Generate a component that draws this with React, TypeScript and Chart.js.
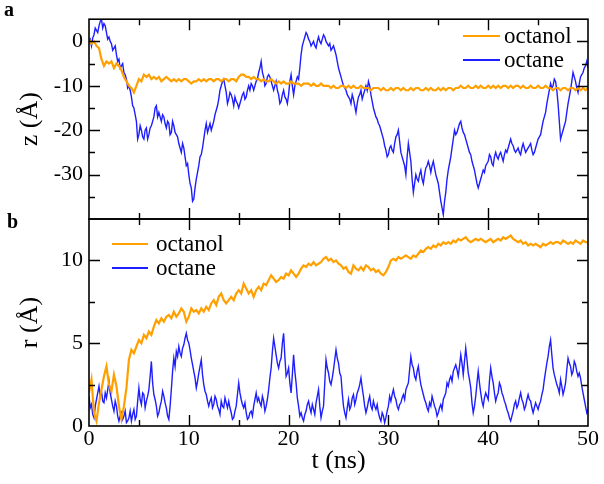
import React, { useEffect, useRef } from "react";
import { Chart, registerables } from "chart.js";

Chart.register(...registerables);

// ---------- data ----------
// octanol series sampled every 0.25 ns, octane series every 0.125 ns (t = 0 ... 50 ns)
const STEP_OCTANOL = 0.25;
const STEP_OCTANE = 0.125;
const seriesNames = ["octanol", "octane"];
const xTickLabels = ["0", "10", "20", "30", "40", "50"];

const zOctane = [
  0, 0.5, -1, 0.8, 1.5, 3, 2.5, 2,
  3.5, 4.5, 5, 3, 4, 3.5, 2, 0.5,
  1, 0, -0.5, -2, -1.5, -1, -3, -4.5,
  -4, -6, -5.5, -5, -7, -7.5, -8.5, -10.5,
  -10, -11, -12.5, -14.5, -15, -16.5, -18, -22,
  -21, -19, -20, -21.5, -22, -20, -19.5, -22,
  -21, -19.5, -19, -18, -17, -15, -14.5, -17,
  -16, -17, -18, -16.5, -17, -18.5, -19.5, -18,
  -18.5, -21, -20.5, -18, -19, -20.5, -21, -21.5,
  -23, -24, -25, -23, -24, -26, -28, -27.5,
  -30, -32, -33, -36, -35.5, -33, -31, -29.5,
  -28, -26, -25.5, -24, -22, -20, -18.5, -20.5,
  -19.5, -18.5, -20, -19, -18, -16.5, -15.5, -14.5,
  -13, -11, -10, -9, -8.5, -10, -11.5, -14,
  -13, -11.5, -12, -13, -14.5, -12.5, -13.5, -14,
  -15, -14, -13, -12, -11.5, -13, -12.5, -11,
  -10, -11, -9.5, -10, -11, -10, -9, -8.5,
  -7, -6, -4.5, -7, -8, -10, -9.5, -8,
  -7.5, -8, -9, -10, -11, -10, -9, -11,
  -12, -14, -13.5, -12, -11, -12.5, -13, -14,
  -12, -9, -7.5, -10, -12, -10, -9, -8,
  -8.5, -6, -3, -1, 0, 1, 2, 1.5,
  0.5, 0, -1, -0.5, 0, -1, -1.5, 0,
  1, 0, -0.5, 0.5, 1.5, 1, 0, -0.5,
  -1, -0.5, -2, -1.5, -1, -2, -3, -4.5,
  -6, -7, -8, -9, -10, -10.5, -11, -12,
  -12.5, -13, -14, -12, -13, -14.5, -16, -14,
  -12.5, -12, -11, -13, -12, -11, -10, -11,
  -9, -10, -12, -13.5, -15, -16, -17, -17.5,
  -18.5, -19, -20, -21, -22, -23.5, -24.5, -26,
  -25.5, -24, -23.5, -24.5, -25, -23, -21.5, -21,
  -20, -22.5, -25, -26, -27, -28, -30, -26,
  -23, -25, -27, -31, -34, -32, -30, -31,
  -31.5, -30, -29, -31, -32, -30, -28.5, -28,
  -27, -28, -29.5, -28, -27, -28.5, -30, -31,
  -32, -34, -36, -37.5, -39, -36, -34, -31,
  -29, -27.5, -26, -24, -22, -20, -21, -20.5,
  -19.5, -18.5, -18, -19.5, -20.5, -21, -22, -23,
  -24, -25, -25.5, -27, -28, -29, -30.5, -32,
  -33, -32, -31, -30, -29, -29.5, -28, -27.5,
  -27, -25.5, -26, -27.5, -28, -26, -25, -26,
  -26.5, -25.5, -25, -26, -27, -25.5, -24.5, -25,
  -24, -23, -22, -23, -23.5, -24.5, -25, -24.5,
  -24, -25, -25.5, -24, -23, -24, -25, -24.5,
  -24, -23.5, -23, -24.5, -25.5, -25, -24, -23,
  -22, -21.5, -21, -19.5, -18, -17, -16, -14,
  -12.5, -11, -9.5, -10.5, -10, -8.5, -9, -11,
  -14, -18, -22, -21, -20, -19, -18, -16,
  -14, -12.5, -11, -9, -7, -8, -9, -10.5,
  -11.5, -9.5, -8, -7.5, -7, -6, -5.5, -4.5,
  -6,
];

const zOctanol = [
  0.5, -0.5, 0, -1, -1.5, -4, -5.5, -4.5, -5, -4.5, -6, -5, -5.5, -6.5, -8, -9,
  -10, -10.5, -11.5, -10, -8.5, -9, -7.5, -8, -7.5, -8.5, -8, -8.5, -8, -9, -8.5, -8,
  -8.5, -9, -8.5, -9, -8.5, -9, -8.5, -8.5, -9, -9.5, -9, -9, -8.5, -9, -8.5, -9,
  -8.5, -8.5, -9, -8.5, -8.5, -9, -8.5, -8.5, -9, -8.5, -8.5, -9, -8, -7.5, -7.5, -8,
  -8, -8.5, -8, -8.5, -8.5, -9, -8.5, -9, -9, -8.5, -9, -9.5, -9, -9.5, -9, -9.5,
  -9.5, -9, -9.5, -9.5, -9.5, -10, -9.5, -9.5, -9.5, -10, -9.5, -10, -10, -9.5, -10, -10,
  -10, -10.5, -10, -10.5, -10.5, -10, -10, -10.5, -10, -10.5, -10, -10.5, -10.5, -10, -10.5, -10.5,
  -10.5, -11, -10.5, -10.5, -10.5, -11, -10.5, -11, -11, -10.5, -11, -10.5, -10.5, -11, -10.5, -11,
  -11, -10.5, -11, -10.5, -10.5, -11, -11, -10.5, -11, -10.5, -11, -11, -10.5, -11, -10.5, -11,
  -10.5, -10.5, -11, -10.5, -10.5, -10, -10.5, -10.5, -10, -10.5, -10.5, -10, -10.5, -10, -10.5, -10.5,
  -10, -10.5, -10, -10.5, -10, -10.5, -10, -10, -10.5, -10, -10.5, -10, -10, -10.5, -10, -10.5,
  -10.5, -10, -10.5, -10.5, -10, -10.5, -10.5, -10, -10.5, -10.5, -11, -10.5, -10.5, -11, -10.5, -10.5,
  -11, -10.5, -10.5, -11, -10.5, -11, -10.5, -11, -10.5,
];

const rOctane = [
  1.8, 1.1, 1.3, 0.7, 0.5, 1.2, 1.6, 2.0,
  2.4, 1.8, 2.1, 1.5, 1.4, 2.0, 1.7, 2.2,
  2.7, 2.0, 1.6, 1.2, 0.9, 1.5, 1.2, 0.6,
  0.3, 0.6, 0.8, 0.4, 0.6, 0.9, 0.2, 0.3,
  0.5, 0.9, 0.3, 0.7, 1.0, 0.4, 0.6, 1.5,
  2.3, 1.6, 1.3, 2.0, 1.9, 1.1, 1.5, 1.8,
  2.2, 3.0, 3.9, 2.6, 1.9, 1.6, 1.2, 0.6,
  0.8, 1.2, 1.5, 2.1, 1.8, 1.4, 1.1, 0.6,
  0.4, 1.2, 2.2, 3.3, 4.1, 3.6, 4.5, 4.2,
  4.8, 4.4, 4.2, 4.7, 4.9, 5.3, 5.6, 5.2,
  5.0, 4.6, 4.1, 3.7, 3.3, 2.9, 2.3, 2.7,
  3.2, 3.6, 4.0, 3.1, 2.5, 2.1, 1.9, 1.5,
  1.2, 1.5, 1.7, 1.1, 1.3, 1.8, 1.6, 1.2,
  1.0, 0.7, 1.5, 1.2, 1.1, 1.7, 1.4, 1.1,
  1.5, 1.1, 0.8, 0.4, 0.5, 0.9, 1.2, 1.9,
  2.6, 2.0, 1.6, 1.3, 1.1, 1.4, 0.8, 0.4,
  0.5, 0.8, 0.9, 0.6, 1.2, 1.6, 2.0, 1.5,
  1.7, 1.4, 1.2, 1.8, 1.5, 0.9, 1.2, 1.6,
  2.2, 2.9, 3.5, 4.5, 5.3, 4.8, 4.3, 3.8,
  3.5, 3.9, 4.1, 5.0, 5.6, 4.2, 3.0, 3.2,
  3.5, 2.6, 2.0, 3.1, 4.3, 3.3, 2.6, 1.7,
  1.2, 0.6, 0.8, 0.5, 0.3, 0.7, 0.9, 1.3,
  1.5, 1.1, 0.8, 1.3, 1.0, 0.7, 1.4, 1.8,
  2.2, 1.2, 0.5, 0.9, 1.2, 2.6, 4.0, 3.5,
  3.2, 2.7, 2.5, 2.9, 3.4, 4.0, 4.6, 4.1,
  3.8, 3.2, 3.0, 2.0, 1.2, 0.8, 0.5, 1.1,
  1.6, 1.0, 1.2, 1.7, 1.9, 1.3, 1.6, 2.0,
  2.2, 2.5, 2.9, 2.3, 1.8, 1.2, 0.8, 1.1,
  1.5, 1.8, 1.2, 1.0, 1.5, 1.2, 1.0, 1.3,
  0.8, 0.5, 0.3, 0.8, 0.6, 0.2, 0.5, 0.9,
  1.2, 1.8, 1.5, 1.9, 2.2, 1.8, 1.6, 1.2,
  1.0, 1.3, 1.4, 1.7, 1.9, 1.6, 2.2, 2.4,
  2.6, 3.4, 4.2, 3.7, 3.5, 3.0, 2.8, 3.3,
  3.6, 3.0, 2.5, 2.2, 1.9, 1.6, 1.4, 1.1,
  0.9, 1.4, 1.2, 1.8, 1.5, 1.2, 1.0, 0.6,
  0.8, 1.1, 1.3, 1.0, 1.6, 1.8, 2.0, 2.6,
  2.4, 2.8, 3.0, 2.7, 3.3, 3.5, 3.7, 3.4,
  3.0, 3.6, 4.3, 3.8, 3.1, 3.9, 4.7, 4.0,
  3.2, 2.8, 2.3, 1.4, 0.8, 1.2, 1.8, 2.6,
  3.3, 2.6, 2.0, 1.5, 1.2, 1.7, 2.0, 1.8,
  1.6, 2.7, 3.5, 3.0, 2.6, 2.0, 1.5, 1.8,
  2.0, 2.6, 2.4, 2.0, 1.8, 1.5, 1.3, 1.0,
  0.8, 0.5, 0.3, 0.6, 0.9, 1.3, 1.5, 1.1,
  1.3, 1.7, 2.0, 1.6, 1.4, 1.0, 1.2, 1.6,
  1.9, 1.6, 1.5, 1.1, 0.8, 1.1, 1.4, 1.2,
  1.0, 1.3, 1.5, 1.9, 2.2, 2.8, 3.3, 3.8,
  4.2, 4.8, 5.2, 4.3, 3.5, 3.1, 2.8, 2.5,
  2.3, 2.0, 2.8, 2.4, 1.9, 2.2, 2.6, 3.4,
  4.1, 3.8, 3.6, 3.1, 3.3, 3.9, 3.7, 3.3,
  3.0, 3.2, 2.9, 2.4, 2.0, 1.6, 1.2, 0.8,
  1.0,
];

const rOctanol = [
  2.0, 2.8, 0.8, 0.3, 1.4, 2.2, 3.0, 3.6, 2.5, 2.1, 3.1, 2.4, 1.2, 0.4, 1.2, 2.3,
  4.0, 4.6, 4.4, 4.8, 5.2, 5.0, 5.5, 5.3, 5.7, 5.5, 6.0, 6.4, 6.2, 6.5, 6.3, 6.6,
  6.7, 6.5, 6.9, 6.6, 6.8, 7.1, 6.9, 6.3, 6.6, 7.1, 6.9, 7.0, 6.8, 7.1, 6.9, 7.2,
  7.0, 7.4, 7.6, 7.3, 7.8, 8.0, 7.6, 7.4, 7.6, 7.8, 7.6, 8.0, 8.2, 8.0, 8.6, 8.3,
  8.0, 8.2, 7.8, 8.2, 8.4, 8.2, 8.6, 8.5, 8.8, 9.1, 8.9, 8.7, 8.8, 9.0, 8.9, 9.2,
  9.1, 9.4, 9.2, 9.0, 9.2, 9.5, 9.7, 9.6, 9.8, 9.7, 9.9, 9.7, 9.8, 9.9, 10.1, 10.2,
  10.0, 10.1, 9.9, 10.0, 9.8, 9.7, 9.5, 9.6, 9.3, 9.2, 9.7, 9.5, 9.4, 9.6, 9.4, 9.7,
  9.6, 9.4, 9.5, 9.3, 9.4, 9.2, 9.1, 9.3, 9.6, 10.0, 10.1, 10.0, 10.2, 10.1, 10.2, 10.3,
  10.2, 10.1, 10.3, 10.2, 10.4, 10.6, 10.5, 10.7, 10.8, 10.7, 10.9, 10.8, 11.0, 10.9, 11.1, 11.0,
  11.1, 11.0, 11.2, 11.1, 11.3, 11.2, 11.3, 11.4, 11.2, 11.1, 11.2, 11.3, 11.2, 11.3, 11.2, 11.1,
  11.2, 11.3, 11.1, 11.2, 11.3, 11.2, 11.4, 11.3, 11.4, 11.5, 11.3, 11.2, 11.1, 11.2, 11.0, 11.1,
  10.9, 11.0, 10.9, 11.0, 10.9, 10.8, 11.0, 10.9, 11.0, 11.1, 11.0, 11.1, 11.1, 11.0, 11.2, 11.1,
  11.0, 11.1, 11.0, 11.2, 11.1, 11.0, 11.2, 11.1, 11.1,
];

// ---------- styling ----------
const FONT = "'Liberation Serif', 'Times New Roman', serif";
const ORANGE = "#FFA000";
const BLUE = "#1E1EFF";
const W = 604;
const H = 484;
const PLOT_LEFT = 89;
const PLOT_RIGHT = 588;
const TOP_A = 13;
const SPLIT = 219;
const BOTTOM_B = 426;

const toXY = (vals: number[], step: number) => vals.map((v, i) => ({ x: i * step, y: v }));

function minorValues(min: number, max: number, step: number) {
  const out: number[] = [];
  const half = step / 2;
  const start = Math.ceil(min / half) * half;
  for (let v = start; v <= max + 1e-9; v += half) {
    const r = Math.abs(v / step - Math.round(v / step));
    if (r > 0.25 && v > min + 1e-6 && v < max - 1e-6) out.push(v);
  }
  return out;
}

function majorValues(min: number, max: number, step: number) {
  const out: number[] = [];
  const start = Math.ceil(min / step) * step;
  for (let v = start; v <= max + 1e-9; v += step) {
    if (v > min + 1e-6 && v < max - 1e-6) out.push(v);
  }
  return out;
}

const frameTicks = {
  id: "frameTicks",
  afterDatasetsDraw(chart: any, _args: any, opts: any) {
    const { ctx, chartArea } = chart;
    const xs = chart.scales.x;
    const ys = chart.scales.y;
    const { left, right, top, bottom } = chartArea;
    ctx.save();
    ctx.strokeStyle = "#000";
    ctx.lineWidth = 1.6;
    ctx.strokeRect(left, top, right - left, bottom - top);
    ctx.lineWidth = 1.4;
    const MAJ = 11;
    const MIN = 6;
    ctx.beginPath();
    const xMaj = majorValues(xs.min, xs.max, opts.xStep);
    const xMin = minorValues(xs.min, xs.max, opts.xStep);
    for (const v of xMaj) {
      const p = Math.round(xs.getPixelForValue(v)) + 0.5;
      ctx.moveTo(p, bottom); ctx.lineTo(p, bottom - MAJ);
      ctx.moveTo(p, top); ctx.lineTo(p, top + MAJ);
    }
    for (const v of xMin) {
      const p = Math.round(xs.getPixelForValue(v)) + 0.5;
      ctx.moveTo(p, bottom); ctx.lineTo(p, bottom - MIN);
      ctx.moveTo(p, top); ctx.lineTo(p, top + MIN);
    }
    const yMaj = majorValues(ys.min, ys.max, opts.yStep);
    const yMin = minorValues(ys.min, ys.max, opts.yStep);
    for (const v of yMaj) {
      const p = Math.round(ys.getPixelForValue(v)) + 0.5;
      ctx.moveTo(left, p); ctx.lineTo(left + MAJ, p);
      ctx.moveTo(right, p); ctx.lineTo(right - MAJ, p);
    }
    for (const v of yMin) {
      const p = Math.round(ys.getPixelForValue(v)) + 0.5;
      ctx.moveTo(left, p); ctx.lineTo(left + MIN, p);
      ctx.moveTo(right, p); ctx.lineTo(right - MIN, p);
    }
    ctx.stroke();

    // legend
    const lg = opts.legend;
    ctx.font = `23px ${FONT}`;
    ctx.textBaseline = "middle";
    ctx.textAlign = "left";
    chart.data.datasets.forEach((ds: any, i: number) => {
      const y = lg.y + i * lg.gap;
      ctx.strokeStyle = ds.borderColor;
      ctx.lineWidth = 2;
      ctx.beginPath();
      ctx.moveTo(lg.x0, y);
      ctx.lineTo(lg.x1, y);
      ctx.stroke();
      ctx.fillStyle = "#000";
      ctx.fillText(ds.label, lg.tx, y + 1);
    });

    // panel letter
    ctx.font = `bold 20px ${FONT}`;
    ctx.textBaseline = "alphabetic";
    ctx.fillText(opts.letter.text, opts.letter.x, opts.letter.y);
    ctx.restore();
  },
};

function makeConfig(panel: "a" | "b"): any {
  const isA = panel === "a";
  const ds = isA
    ? [
        { label: seriesNames[0], data: toXY(zOctanol, STEP_OCTANOL), borderColor: ORANGE, borderWidth: 2.2 },
        { label: seriesNames[1], data: toXY(zOctane, STEP_OCTANE), borderColor: BLUE, borderWidth: 1.4 },
      ]
    : [
        { label: seriesNames[0], data: toXY(rOctanol, STEP_OCTANOL), borderColor: ORANGE, borderWidth: 2.2 },
        { label: seriesNames[1], data: toXY(rOctane, STEP_OCTANE), borderColor: BLUE, borderWidth: 1.4 },
      ];
  return {
    type: "line",
    data: {
      datasets: ds.map((d) => ({
        ...d,
        pointRadius: 0,
        tension: 0,
        fill: false,
      })),
    },
    options: {
      responsive: false,
      animation: false,
      events: [],
      layout: {
        padding: isA
          ? { left: 0, right: W - PLOT_RIGHT, top: TOP_A, bottom: H - SPLIT }
          : { left: 0, right: W - PLOT_RIGHT, top: SPLIT, bottom: 0 },
      },
      plugins: {
        legend: { display: false },
        tooltip: { enabled: false },
        frameTicks: {
          xStep: 10,
          yStep: isA ? 10 : 5,
          legend: isA
            ? { x0: 463, x1: 500, tx: 504, y: 36, gap: 24 }
            : { x0: 112, x1: 148, tx: 156, y: 244, gap: 24 },
          letter: isA ? { text: "a", x: 4, y: 16 } : { text: "b", x: 7, y: 228 },
        },
      },
      scales: {
        x: {
          type: "linear",
          min: 0,
          max: 50,
          display: !isA,
          grid: { display: false, drawTicks: false },
          border: { display: false },
          ticks: {
            stepSize: 10,
            padding: 0,
            color: "#000",
            autoSkip: false,
            font: { family: FONT, size: 22 },
            maxRotation: 0,
            callback: (v: number) => {
              const idx = Math.round(v / 10);
              return Math.abs(v - idx * 10) < 1e-6 ? xTickLabels[idx] : "";
            },
          },
          title: {
            display: true,
            text: "t (ns)",
            color: "#000",
            font: { family: FONT, size: 26 },
            padding: { top: 0, bottom: 7 },
          },
          afterFit: (s: any) => {
            s.height = isA ? 0 : H - BOTTOM_B;
          },
        },
        y: {
          type: "linear",
          min: isA ? -40 : 0,
          max: isA ? 5 : 12.5,
          grid: { display: false, drawTicks: false },
          border: { display: false },
          afterBuildTicks: (s: any) => {
            s.ticks = s.ticks.filter((t: any) => {
              const v = Math.round(t.value * 1000) / 1000;
              return isA ? Math.abs(v % 10) < 1e-6 && v > -40 : Math.abs(v % 5) < 1e-6;
            });
          },
          ticks: {
            stepSize: isA ? 10 : 5,
            padding: 6,
            autoSkip: false,
            color: "#000",
            font: { family: FONT, size: 22 },
          },
          title: {
            display: true,
            text: isA ? "z (Å)" : "r (Å)",
            color: "#000",
            font: { family: FONT, size: 26 },
            padding: { top: 15, bottom: 0 },
          },
          afterFit: (s: any) => {
            s.width = PLOT_LEFT;
          },
        },
      },
    },
    plugins: [frameTicks],
  };
}

export default function App() {
  const refA = useRef<HTMLCanvasElement>(null);
  const refB = useRef<HTMLCanvasElement>(null);
  useEffect(() => {
    const a = new Chart(refA.current as HTMLCanvasElement, makeConfig("a"));
    const b = new Chart(refB.current as HTMLCanvasElement, makeConfig("b"));
    return () => {
      a.destroy();
      b.destroy();
    };
  }, []);
  const cs: React.CSSProperties = { position: "absolute", left: 0, top: 0, width: W, height: H };
  return (
    <div style={{ position: "fixed", left: 0, top: 0, width: W, height: H, background: "#fff" }}>
      <canvas ref={refA} width={W} height={H} style={cs} />
      <canvas ref={refB} width={W} height={H} style={cs} />
    </div>
  );
}
